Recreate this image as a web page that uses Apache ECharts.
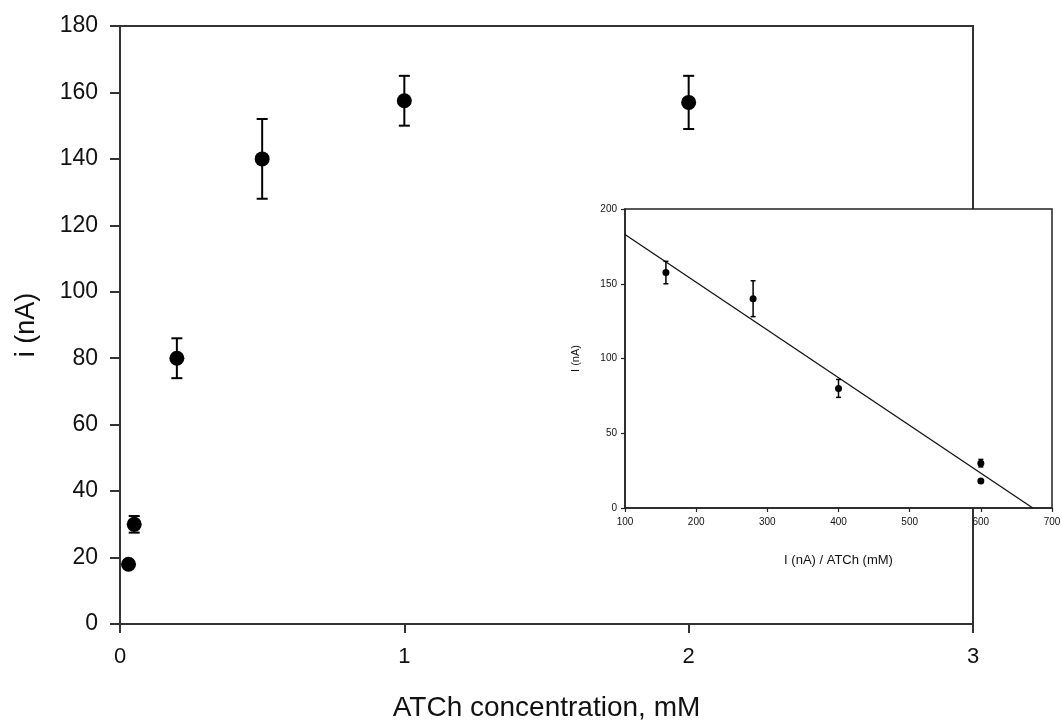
<!DOCTYPE html>
<html>
<head>
<meta charset="utf-8">
<script src="https://cdn.jsdelivr.net/npm/echarts@6/dist/echarts.min.js"></script>
<style>
html,body{margin:0;padding:0;background:#fff;}
#chart{width:1061px;height:722px;}
</style>
</head>
<body>
<div id="chart"></div>
<script>
// Main plot data: ATCh concentration (mM) vs current (nA)
const mainX = [0.03, 0.05, 0.2, 0.5, 1, 2];
const mainY = [18, 30, 80, 140, 157.5, 157];
const mainErr = [0, 2.5, 6, 12, 7.5, 8];

// Inset data: I/ATCh vs I
const insetX = [157.5, 280, 400, 600, 600];
const insetY = [157.5, 140, 80, 30, 18];
const insetErr = [7.5, 12, 6, 2.5, 0];

// Inset fitted line end points
const fitX = [100, 673];
const fitY = [183, 0];

const mainTitleX = 'ATCh concentration, mM';
const mainTitleY = 'i (nA)';
const insetTitleX = 'I (nA) / ATCh (mM)';
const insetTitleY = 'I (nA)';

const FONT = "'Liberation Sans', Arial, sans-serif";
const TXT = '#111';

function zip3(a, b, c) { return a.map((v, i) => [v, b[i], c[i]]); }
function zip2(a, b) { return a.map((v, i) => [v, b[i]]); }

function errRender(capHalf, lw) {
  return function (params, api) {
    const x = api.value(0), y = api.value(1), e = api.value(2);
    if (!e) return null;
    const t = api.coord([x, y + e]);
    const b = api.coord([x, y - e]);
    const st = { stroke: '#000', lineWidth: lw };
    return {
      type: 'group',
      children: [
        { type: 'line', shape: { x1: t[0], y1: t[1], x2: b[0], y2: b[1] }, style: st },
        { type: 'line', shape: { x1: t[0] - capHalf, y1: t[1], x2: t[0] + capHalf, y2: t[1] }, style: st },
        { type: 'line', shape: { x1: b[0] - capHalf, y1: b[1], x2: b[0] + capHalf, y2: b[1] }, style: st }
      ]
    };
  };
}

const chart = echarts.init(document.getElementById('chart'), null, { renderer: 'canvas' });

chart.setOption({
  backgroundColor: '#fff',
  animation: false,
  textStyle: { fontFamily: FONT },
  grid: [
    { left: 120, right: 88, top: 26, bottom: 98, show: true, borderColor: '#333', borderWidth: 2, backgroundColor: 'transparent', z: 0, containLabel: false, outerBoundsMode: 'none' },
    { left: 625, top: 209, width: 427, height: 299, show: true, borderColor: '#222', borderWidth: 1.5, backgroundColor: '#fff', z: 5, containLabel: false, outerBoundsMode: 'none' }
  ],
  xAxis: [
    {
      gridIndex: 0, type: 'value', min: 0, max: 3, interval: 1,
      name: mainTitleX, nameLocation: 'middle', nameGap: 70,
      nameTextStyle: { fontSize: 28, color: TXT, fontFamily: FONT },
      axisLine: { show: true, lineStyle: { color: '#333', width: 2 } },
      axisTick: { show: true, inside: false, length: 9, lineStyle: { color: '#333', width: 2 } },
      axisLabel: { fontSize: 22, color: TXT, margin: 22, fontFamily: FONT },
      splitLine: { show: false }
    },
    {
      gridIndex: 1, type: 'value', min: 100, max: 700, interval: 100, z: 6,
      name: insetTitleX, nameLocation: 'middle', nameGap: 46,
      nameTextStyle: { fontSize: 13, color: TXT, fontFamily: FONT },
      axisLine: { show: true, onZero: false, lineStyle: { color: '#222', width: 1.5 } },
      axisTick: { show: true, inside: false, length: 4, lineStyle: { color: '#222', width: 1.2 } },
      axisLabel: { fontSize: 10, color: TXT, margin: 9, fontFamily: FONT },
      splitLine: { show: false }
    }
  ],
  yAxis: [
    {
      gridIndex: 0, type: 'value', min: 0, max: 180, interval: 20,
      name: mainTitleY, nameLocation: 'middle', nameGap: 80, nameRotate: 90,
      nameTextStyle: { fontSize: 27, color: TXT, fontFamily: FONT },
      axisLine: { show: true, lineStyle: { color: '#333', width: 2 } },
      axisTick: { show: true, inside: false, length: 10, lineStyle: { color: '#333', width: 2 } },
      axisLabel: { fontSize: 23, color: TXT, margin: 22, fontFamily: FONT },
      splitLine: { show: false }
    },
    {
      gridIndex: 1, type: 'value', min: 0, max: 200, interval: 50, z: 6,
      name: insetTitleY, nameLocation: 'middle', nameGap: 44, nameRotate: 90,
      nameTextStyle: { fontSize: 11, color: TXT, fontFamily: FONT },
      axisLine: { show: true, onZero: false, lineStyle: { color: '#222', width: 1.5 } },
      axisTick: { show: true, inside: false, length: 4, lineStyle: { color: '#222', width: 1.2 } },
      axisLabel: { fontSize: 10, color: TXT, margin: 8, fontFamily: FONT },
      splitLine: { show: false }
    }
  ],
  series: [
    {
      type: 'custom', xAxisIndex: 0, yAxisIndex: 0, z: 2,
      renderItem: errRender(5.5, 2),
      encode: { x: 0, y: 1 },
      data: zip3(mainX, mainY, mainErr),
      clip: false
    },
    {
      type: 'scatter', xAxisIndex: 0, yAxisIndex: 0, z: 3,
      symbol: 'circle', symbolSize: 15,
      itemStyle: { color: '#000', opacity: 1 },
      data: zip2(mainX, mainY),
      clip: false
    },
    {
      type: 'line', xAxisIndex: 1, yAxisIndex: 1, z: 7,
      data: zip2(fitX, fitY),
      symbol: 'none',
      lineStyle: { color: '#111', width: 1.3 }
    },
    {
      type: 'custom', xAxisIndex: 1, yAxisIndex: 1, z: 8,
      renderItem: errRender(2.5, 1.5),
      encode: { x: 0, y: 1 },
      data: zip3(insetX, insetY, insetErr),
      clip: false
    },
    {
      type: 'scatter', xAxisIndex: 1, yAxisIndex: 1, z: 9,
      symbol: 'circle', symbolSize: 7,
      itemStyle: { color: '#000', opacity: 1 },
      data: zip2(insetX, insetY),
      clip: false
    }
  ]
});
</script>
</body>
</html>
